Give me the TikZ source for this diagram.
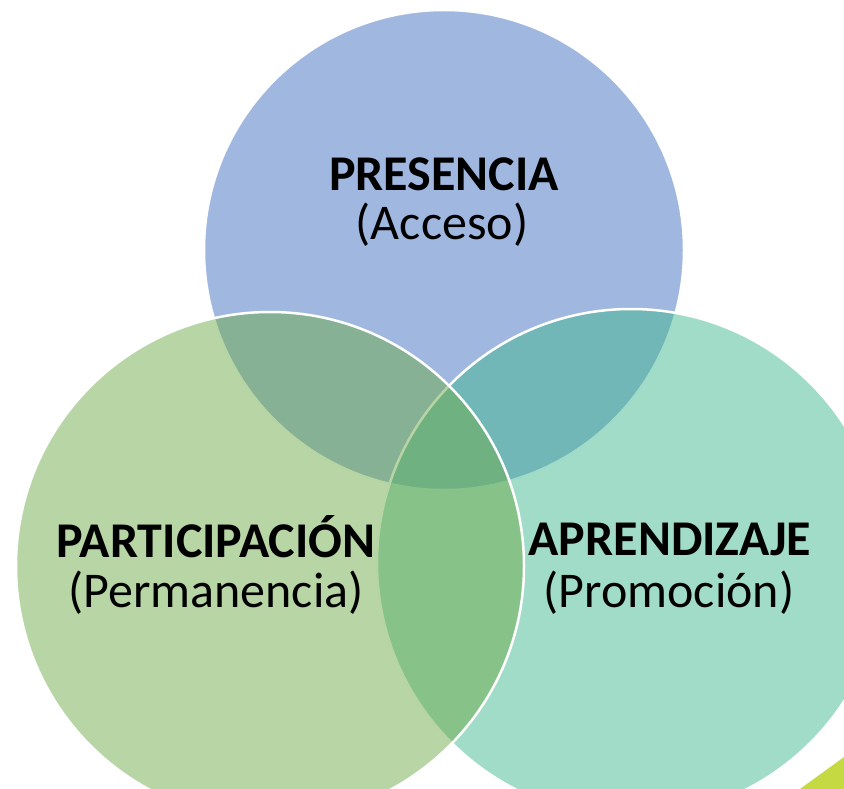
\documentclass[tikz,border=0pt]{standalone}
\usepackage{fontspec}
\setmainfont{Carlito}
\definecolor{bluePres}{RGB}{65,111,193}
\definecolor{tealApr}{RGB}{67,185,145}
\definecolor{greenPart}{RGB}{111,171,75}
\definecolor{limeCorner}{RGB}{196,217,66}
\begin{document}
\begin{tikzpicture}[x=1pt,y=-1pt,line join=bevel,
  venn/.style={circle,draw=white,line width=2.5pt,fill opacity=0.5,inner sep=0pt,minimum size=#1},
  title/.style={anchor=base,font=\fontsize{50}{50}\selectfont\bfseries},
  sub/.style={anchor=base,font=\fontsize{50}{50}\selectfont}]
%%
\useasboundingbox (0,0) rectangle (844,789);
\clip (0,0) rectangle (844,789);
%% corner
\fill [limeCorner] (800,789) -- (844,757) -- (844,789) -- cycle;
%% circles
  \node (Pres) at (444,250) [venn=480,fill=bluePres] {};
  \node (Apr) at (631,563) [venn=508,fill=tealApr] {};
  \node (Part) at (270,566) [venn=508,fill=greenPart] {};
%% labels
  \node (PresT) at (444,190) [title] {PRESENCIA};
  \node (PresS) at (442,240) [sub] {(Acceso)};
  \node (PartT) at (216,557) [title] {PARTICIPACIÓN};
  \node (PartS) at (216,607) [sub] {(Permanencia)};
  \node (AprT) at (670,555) [title] {APRENDIZAJE};
  \node (AprS) at (669,607) [sub] {(Promoción)};
%
\end{tikzpicture}
\end{document}
